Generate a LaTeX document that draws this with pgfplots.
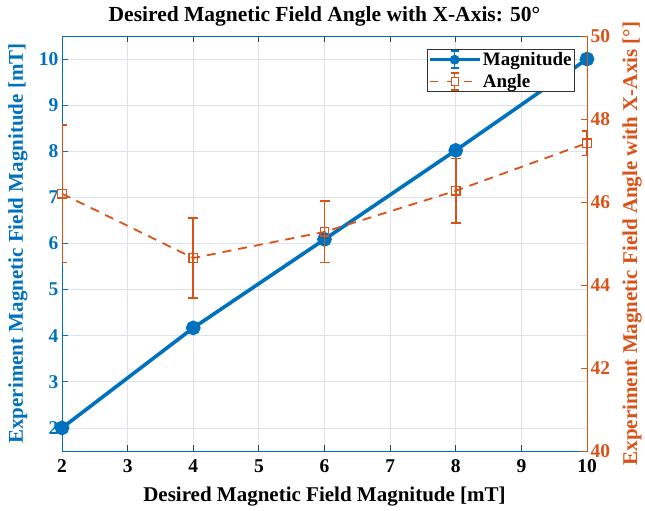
\documentclass[border=0pt]{standalone}
\usepackage{fontspec}
\setmainfont{Liberation Serif}
\usepackage{pgfplots}
\pgfplotsset{compat=1.18}
\definecolor{mblue}{rgb}{0,0.447,0.741}
\definecolor{morange}{rgb}{0.85,0.325,0.098}
\definecolor{mgrid}{rgb}{0.87,0.89,0.92}
\begin{document}
\begin{tikzpicture}
\begin{axis}[
  name=ax,
  width=525pt, height=415pt, scale only axis,
  xmin=2, xmax=10, ymin=1.5, ymax=10.5,
  xtick={2,...,10}, ytick={2,...,10},
  xtick pos=both, ytick pos=left,
  tick align=inside,
  major tick length=6pt,
  grid=major,
  major grid style={mgrid, line width=0.8pt},
  /pgf/number format/assume math mode=true,
  tick label style={font=\bfseries\fontsize{19.5}{21}\selectfont},
  xticklabel style={yshift=-5pt},
  yticklabel style={mblue},
  y axis line style={mblue, line width=0.9pt},
  x axis line style={black!75, line width=0.9pt},
  ytick style={mblue, line width=0.9pt},
  xtick style={black!75, line width=0.9pt},
  xlabel={Desired Magnetic Field Magnitude [mT]},
  ylabel={Experiment Magnetic Field Magnitude [mT]},
  label style={font=\bfseries\fontsize{21}{23}\selectfont},
  ylabel style={mblue, at={(axis description cs:-0.084,0.5)}, anchor=center},
  xlabel style={at={(axis description cs:0.5,0)}, anchor=base, yshift=-51pt},
  title={Desired Magnetic Field Angle with X-Axis: 50°},
  title style={font=\bfseries\fontsize{21.5}{23}\selectfont, at={(axis description cs:0.5,1)}, anchor=base, yshift=8pt},
]
\addplot[mblue, line width=3.6pt, mark=*, mark size=5.5pt]
  coordinates {(2,2.0) (4,4.17) (6,6.09) (8,8.02) (10,10.0)};
\end{axis}
\begin{axis}[
  width=525pt, height=415pt, scale only axis,
  xmin=2, xmax=10, ymin=40, ymax=50,
  axis x line=none,
  axis y line*=right,
  ytick={40,42,...,50},
  tick align=inside,
  major tick length=6pt,
  /pgf/number format/assume math mode=true,
  tick label style={font=\bfseries\fontsize{19.5}{21}\selectfont},
  yticklabel style={morange},
  y axis line style={morange, line width=0.9pt},
  ytick style={morange, line width=0.9pt},
  ylabel={Experiment Magnetic Field Angle with X-Axis [°]},
  label style={font=\bfseries\fontsize{21}{23}\selectfont},
  ylabel style={morange, at={(axis description cs:1.086,0.5)}, anchor=center},
  legend style={at={(1,1)}, anchor=north east, xshift=-12pt, yshift=-13pt,
    draw=black!80, line width=0.8pt, fill=white,
    font=\bfseries\fontsize{19}{21}\selectfont,
    inner sep=1pt, row sep=3pt, cells={anchor=west}},
]
\addlegendimage{legend image code/.code={
  \draw[mblue, line width=2.5pt] (0pt,0pt) -- (50pt,0pt);
  \draw[mblue, line width=1.5pt] (25pt,-8.5pt) -- (25pt,8.5pt);
  \draw[mblue, line width=1.5pt] (21pt,-8.5pt) -- (29pt,-8.5pt);
  \draw[mblue, line width=1.5pt] (21pt,8.5pt) -- (29pt,8.5pt);
  \fill[mblue] (25pt,0pt) circle (4.5pt);
}}
\addlegendentry{Magnitude}
\addlegendimage{legend image code/.code={
  \draw[morange, line width=1.8pt, dash pattern=on 8pt off 9pt] (0pt,0pt) -- (50pt,0pt);
  \draw[morange, line width=1.5pt] (25pt,-8.5pt) -- (25pt,8.5pt);
  \draw[morange, line width=1.5pt] (21pt,-8.5pt) -- (29pt,-8.5pt);
  \draw[morange, line width=1.5pt] (21pt,8.5pt) -- (29pt,8.5pt);
  \draw[morange, line width=1.2pt, fill=white] (21.5pt,-4pt) rectangle (28.5pt,4pt);
}}
\addlegendentry{Angle}
\addplot[morange, line width=1.8pt, dash pattern=on 9pt off 7pt,
  mark=square, mark size=4.2pt, mark options={solid, line width=1.3pt},
  forget plot,
  error bars/.cd, y dir=both, y explicit,
  error bar style={line width=1.8pt, solid, draw=morange},
  error mark options={rotate=90, mark size=5pt, line width=1.8pt, solid, draw=morange}]
  coordinates {(2,46.2) +- (0,1.66) (4,44.65) +- (0,0.96) (6,45.28) +- (0,0.74) (8,46.27) +- (0,0.78) (10,47.42) +- (0,0.3)};
\end{axis}
\path (ax.south west) ++(-62pt,-60pt) coordinate (BBA);
\path (ax.north east) ++(58pt,36pt) coordinate (BBB);
\pgfresetboundingbox
\useasboundingbox (BBA) rectangle (BBB);
\end{tikzpicture}
\end{document}
